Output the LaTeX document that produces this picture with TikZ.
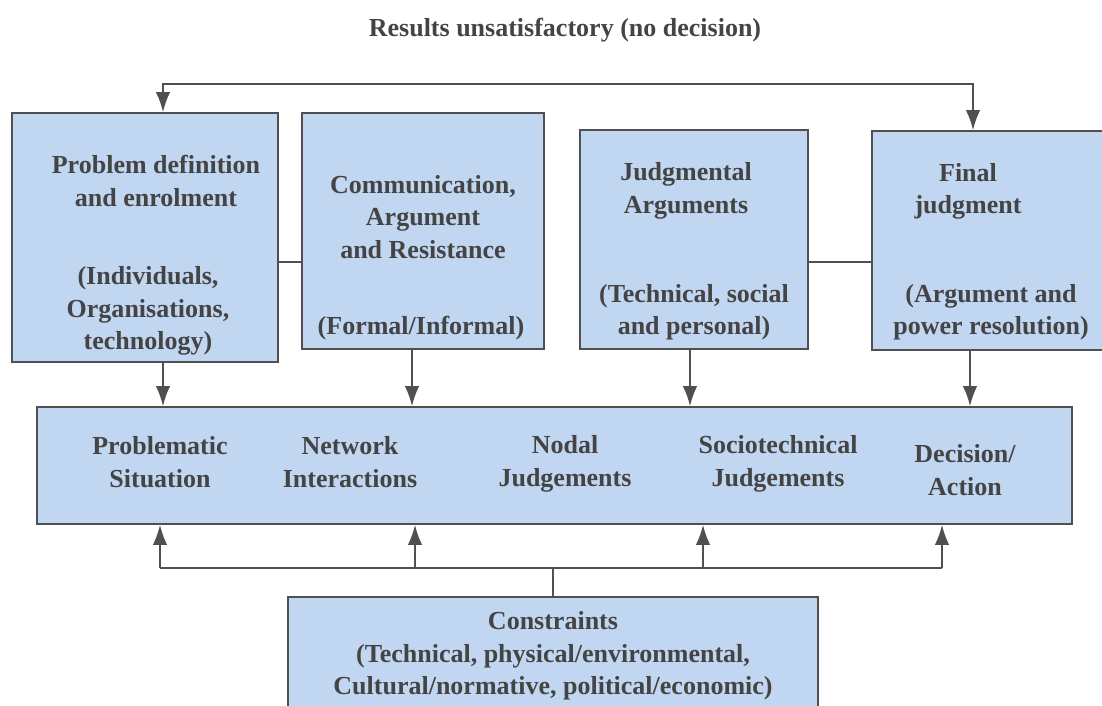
\documentclass[tikz,border=0pt]{standalone}
\usepackage{fontspec}
\setmainfont{Liberation Serif}
\definecolor{boxblue}{RGB}{193,214,240}
\definecolor{textgray}{RGB}{68,68,68}
\definecolor{edgegray}{RGB}{80,80,80}
\usetikzlibrary{arrows.meta,positioning,calc}

\begin{document}
\begin{tikzpicture}[
    panel/.style={rectangle, draw=edgegray, fill=boxblue, line width=1.2pt, inner sep=0pt},
    txt/.style={align=center, text=textgray, font=\fontsize{18.5}{23}\selectfont\bfseries},
    link/.style={line width=1.2pt, edgegray},
    arrow/.style={-{Latex[length=5mm,width=3.6mm]}, line width=1.2pt, edgegray}]

\useasboundingbox (0,0) rectangle (27.55,-17.65);

% Title
\node[txt] (title) at (14.125,-0.75) {Results unsatisfactory (no decision)};

% Upper stages
\node[panel, minimum width=6.65cm, minimum height=6.225cm] (b1) at (3.625,-5.9375) {};
\node[panel, minimum width=6.05cm, minimum height=5.9cm] (b2) at (10.575,-5.775) {};
\node[panel, minimum width=5.7cm, minimum height=5.475cm] (b3) at (17.35,-5.9875) {};
\node[panel, minimum width=5.95cm, minimum height=5.475cm] (b4) at (24.775,-6.0125) {};

\node[txt] (b1a) at (3.9,-4.525) {Problem definition\\and enrolment};
\node[txt] (b1b) at (3.7,-7.775) {(Individuals,\\Organisations,\\technology)};
\node[txt] (b2a) at (10.575,-5.425) {Communication,\\Argument\\and Resistance};
\node[txt] (b2b) at (10.525,-8.2) {(Formal/Informal)};
\node[txt] (b3a) at (17.15,-4.775) {Judgmental\\Arguments};
\node[txt] (b3b) at (17.35,-7.8125) {(Technical, social\\and personal)};
\node[txt] (b4a) at (24.2,-4.7875) {Final\\judgment};
\node[txt] (b4b) at (24.775,-7.8125) {(Argument and\\power resolution)};

% Process band
\node[panel, minimum width=25.875cm, minimum height=2.925cm] (main) at (13.8625,-11.6375) {};
\node[txt] (m1) at (4.0,-11.55) {Problematic\\Situation};
\node[txt] (m2) at (8.75,-11.55) {Network\\Interactions};
\node[txt] (m3) at (14.125,-11.6) {Nodal\\Judgements};
\node[txt] (m4) at (19.45,-11.6) {Sociotechnical\\Judgements};
\node[txt] (m5) at (24.125,-11.75) {Decision/\\Action};

% Constraints
\node[panel, minimum width=13.25cm, minimum height=3.075cm] (cons) at (13.825,-16.4625) {};
\node[txt] (c1) at (13.825,-16.4) {Constraints\\(Technical, physical/environmental,\\Cultural/normative, political/economic)};

% Side links
\draw[link] (b1.east |- 0,-6.55) -- (b2.west |- 0,-6.55);
\draw[link] (b3.east |- 0,-6.55) -- (b4.west |- 0,-6.55);

% Feedback loop
\coordinate (lp1) at (4.075,-2.1);
\coordinate (lp2) at (24.325,-2.1);
\draw[{Latex[length=5mm,width=3.6mm]}-{Latex[length=5mm,width=3.6mm]}, link]
    (lp1 |- b1.north) -- (lp1) -- (lp2) -- (lp2 |- b4.north);

% Down arrows
\draw[arrow] ([xshift=4.5mm]b1.south) -- ([xshift=4.5mm]b1.south |- main.north);
\draw[arrow] ([xshift=-2.75mm]b2.south) -- ([xshift=-2.75mm]b2.south |- main.north);
\draw[arrow] ([xshift=-1mm]b3.south) -- ([xshift=-1mm]b3.south |- main.north);
\draw[arrow] ([xshift=-5.25mm]b4.south) -- ([xshift=-5.25mm]b4.south |- main.north);

% Up arrows from constraints
\coordinate (p1) at (4.0,-14.2);
\coordinate (p2) at (10.375,-14.2);
\coordinate (p3) at (17.575,-14.2);
\coordinate (p4) at (23.55,-14.2);
\draw[link] (cons.north) -- (cons.north |- p1);
\draw[link] (p1) -- (p4);
\foreach \p in {p1,p2,p3,p4}
    \draw[arrow] (\p) -- (\p |- main.south);
\end{tikzpicture}
\end{document}
